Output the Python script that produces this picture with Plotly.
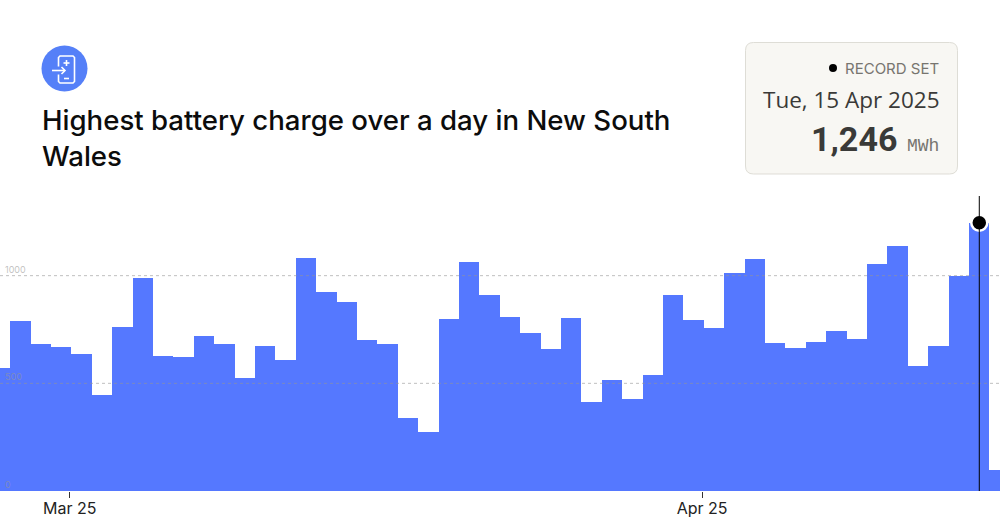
import plotly.graph_objects as go
import pandas as pd

dates = pd.date_range("2025-02-26", "2025-04-16", freq="D").strftime("%Y-%m-%d").tolist()
battery_mwh = [571, 791, 684, 667, 635, 447, 760, 988, 628, 621, 719, 681, 525, 672, 608, 1084, 924,
               878, 701, 684, 339, 275, 797, 1062, 910, 810, 734, 658, 802, 415, 514, 426, 537, 912,
               794, 757, 1013, 1078, 689, 663, 691, 743, 707, 1053, 1139, 579, 675, 1000, 1246, 99]
record_date = "2025-04-15"
record_value = 1246
tick_vals = ["2025-03-01 10:00", "2025-04-01 10:00"]
tick_text = ["Mar 25", "Apr 25"]
y_ticks = [0, 500, 1000]
y_labels = ["0", "500", "1000"]
title_text = "Highest battery charge over a day in New South<br>Wales"

BLUE = "#5578FF"
PT, PB = 196, 491
def px(x): return x / 1000
def py(y): return 1 - (y - PT) / (PB - PT)
def P(pts, close=False):
    s = "M" + " L".join(f"{px(a):.5f},{py(b):.5f}" for a, b in pts)
    return s + (" Z" if close else "")

def rounded(x0, y0, x1, y1, r):
    return (f"M{px(x0+r):.5f},{py(y0):.5f} L{px(x1-r):.5f},{py(y0):.5f} Q{px(x1):.5f},{py(y0):.5f} {px(x1):.5f},{py(y0+r):.5f} "
            f"L{px(x1):.5f},{py(y1-r):.5f} Q{px(x1):.5f},{py(y1):.5f} {px(x1-r):.5f},{py(y1):.5f} "
            f"L{px(x0+r):.5f},{py(y1):.5f} Q{px(x0):.5f},{py(y1):.5f} {px(x0):.5f},{py(y1-r):.5f} "
            f"L{px(x0):.5f},{py(y0+r):.5f} Q{px(x0):.5f},{py(y0):.5f} {px(x0+r):.5f},{py(y0):.5f} Z")

fig = go.Figure()
fig.add_trace(go.Bar(x=dates, y=battery_mwh, width=86400000, marker=dict(color=BLUE, line=dict(width=0)),
                     hovertemplate="%{x}: %{y} MWh<extra></extra>"))
fig.add_trace(go.Scatter(x=[record_date], y=[record_value], mode="markers", cliponaxis=False,
                         marker=dict(size=16, color="#000000", line=dict(color="#ffffff", width=2.5)),
                         hoverinfo="skip"))

shapes = []
for v in y_ticks[1:]:
    shapes.append(dict(type="line", xref="paper", yref="y", x0=0, x1=1, y0=v, y1=v, layer="above",
                       line=dict(color="rgba(150,150,150,0.6)", width=1, dash="dot")))
shapes.append(dict(type="line", xref="x", yref="paper", x0=record_date, x1=record_date, y0=0, y1=1, layer="above",
                   line=dict(color="#000000", width=1)))
# record box
shapes.append(dict(type="path", xref="paper", yref="paper", path=rounded(745.5, 42.5, 957.5, 174, 8),
                   fillcolor="#F8F7F3", line=dict(color="#DEDDD6", width=1)))
shapes.append(dict(type="circle", xref="paper", yref="paper", x0=px(829), x1=px(837), y0=py(72), y1=py(64),
                   fillcolor="#000000", line=dict(width=0)))
# icon
shapes.append(dict(type="circle", xref="paper", yref="paper", x0=px(41.5), x1=px(87.5), y0=py(91.5), y1=py(45.5),
                   fillcolor="#5580F8", line=dict(width=0)))
white = dict(color="#ffffff", width=1.6)
for pts in [[(58.5, 66.5), (58.5, 57.5), (60, 56), (73, 56), (74.5, 57.5), (74.5, 81.5), (73, 83), (60, 83), (58.5, 81.5), (58.5, 74.5)],
            [(52, 70.5), (65, 70.5)], [(61.5, 67), (65, 70.5), (61.5, 74)],
            [(63.5, 63), (69.5, 63)], [(66.5, 60), (66.5, 66)], [(64, 78.5), (69, 78.5)]]:
    shapes.append(dict(type="path", xref="paper", yref="paper", path=P(pts), line=white))

def note(text, x, y, size, color, family, anchor="right", **kw):
    return dict(text=text, xref="paper", yref="paper", x=px(x), y=py(y), xanchor=anchor, yanchor="middle",
                showarrow=False, font=dict(size=size, color=color, family=family), **kw)

annotations = [
    note("RECORD SET", 941, 68, 15, "#77756F", "Inter"),
    note("Tue, 15 Apr 2025", 942, 99, 22.5, "#3A3A38", "Open Sans"),
    note("<b>1,246</b>", 899, 139, 34, "#3A3A38", "Roboto"),
    note("MWh", 941, 146, 18, "#77756F", "Liberation Mono"),
]

fig.update_layout(
    width=1000, height=525, margin=dict(l=0, r=0, t=PT, b=525 - PB),
    paper_bgcolor="#ffffff", plot_bgcolor="#ffffff", showlegend=False, bargap=0,
    title=dict(text=title_text, x=0.042, xanchor="left", xref="paper", yref="container", y=1 - 130 / 525, yanchor="top",
               font=dict(size=27.6, color="#0c0c0c", family="Inter", weight=500)),
    xaxis=dict(type="date", range=["2025-02-26 00:00", "2025-04-16 00:22"], tickmode="array",
               tickvals=tick_vals, ticktext=tick_text, ticks="outside", ticklen=6, tickcolor="#333333", tickwidth=1,
               ticklabelstandoff=-3, showgrid=False, zeroline=False, showline=False,
               tickfont=dict(size=16, color="#222222", family="Inter")),
    yaxis=dict(range=[0, 1370], tickmode="array", tickvals=y_ticks, ticktext=y_labels,
               ticklabelposition="inside top", ticks="", ticklabelstandoff=2, showgrid=False, zeroline=False, showline=False,
               tickfont=dict(size=9, color="rgba(150,150,150,0.6)", family="Inter")),
    shapes=shapes, annotations=annotations,
)
fig.write_html("out.html", config=dict(displayModeBar=False), post_script="document.body.style.margin='0';")
